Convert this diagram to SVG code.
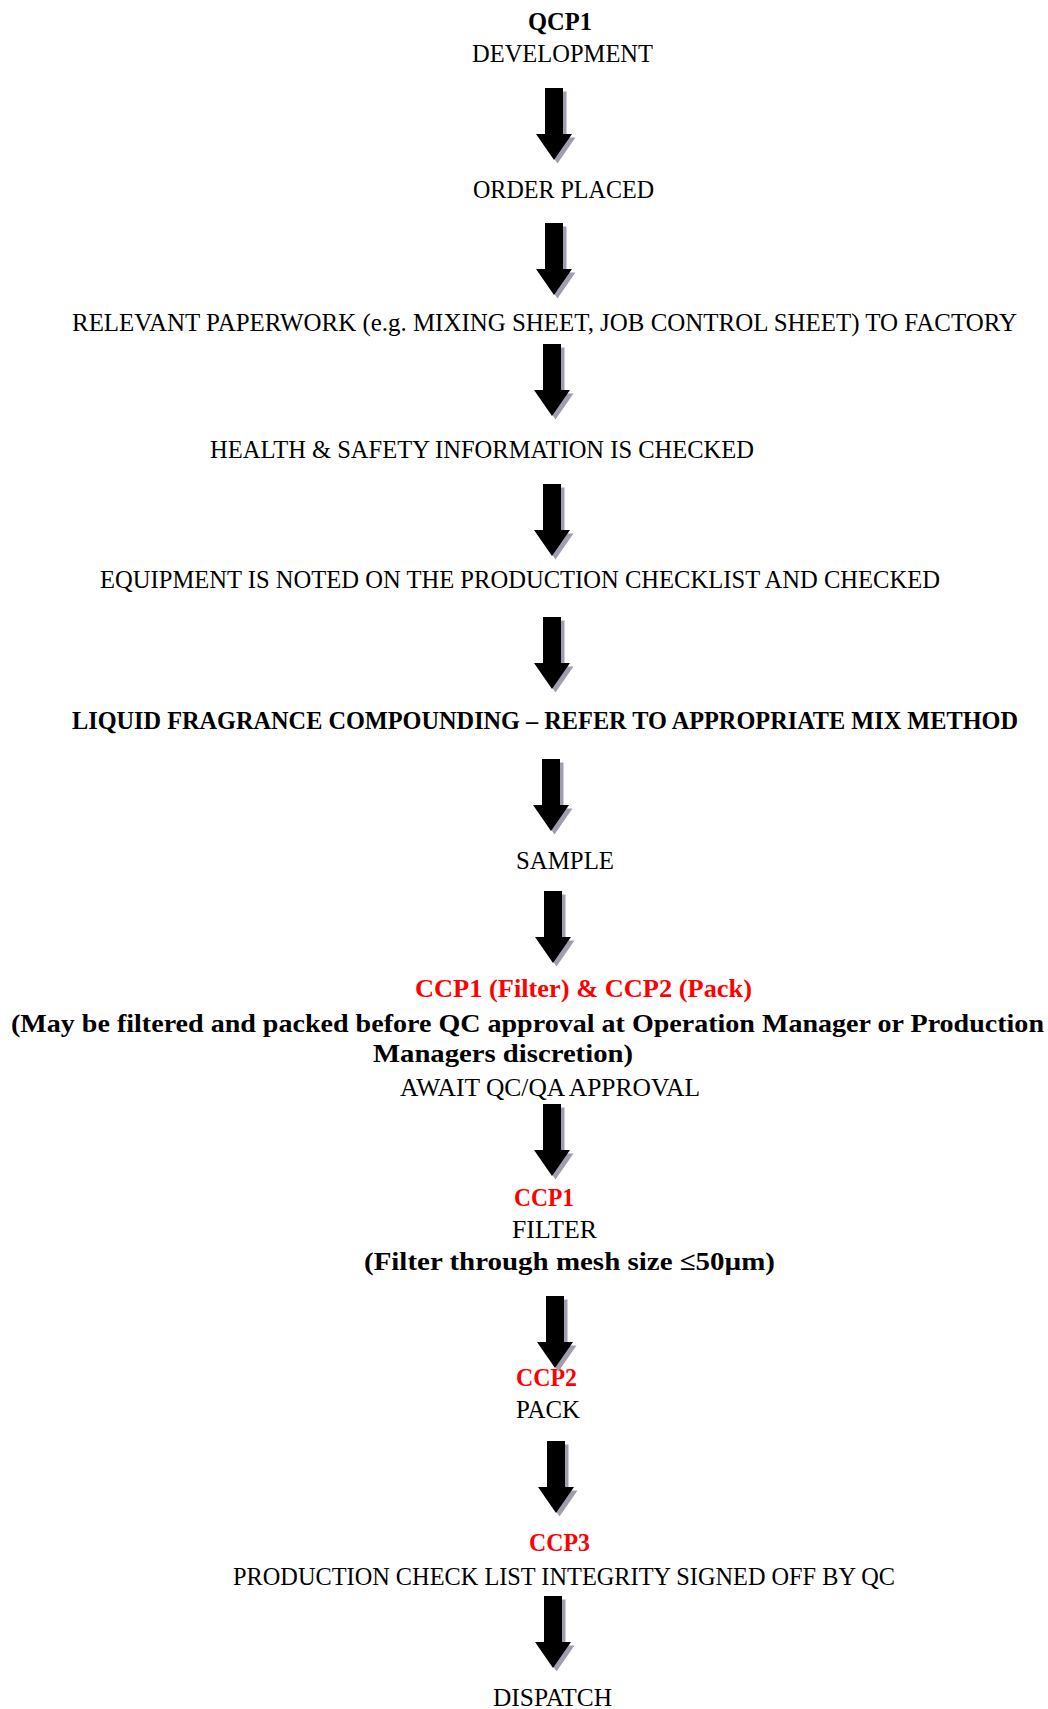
<svg xmlns="http://www.w3.org/2000/svg" width="1048" height="1709" viewBox="0 0 1048 1709">
<style>
text{font-family:"Liberation Serif","DejaVu Serif",serif;font-size:26px;fill:#000}
.b{font-weight:bold}
.r{fill:#ff0000;font-weight:bold}
.sh{fill:#a19daf}
.ar{fill:#000}
</style>
<defs>
<path id="arr" d="M-9,0 H9 V46 H18 L0,72 L-18,46 H-9 Z"/>
</defs>
<rect width="1048" height="1709" fill="#fff"/>
<g id="n1"><text class="b" x="528" y="30" textLength="64" lengthAdjust="spacingAndGlyphs">QCP1</text>
<text x="472" y="62" textLength="181" lengthAdjust="spacingAndGlyphs">DEVELOPMENT</text></g>
<g id="n2"><text x="473" y="198" textLength="181" lengthAdjust="spacingAndGlyphs">ORDER PLACED</text></g>
<g id="n3"><text x="72" y="331" textLength="945" lengthAdjust="spacingAndGlyphs">RELEVANT PAPERWORK (e.g. MIXING SHEET, JOB CONTROL SHEET) TO FACTORY</text></g>
<g id="n4"><text x="210" y="458" textLength="544" lengthAdjust="spacingAndGlyphs">HEALTH &amp; SAFETY INFORMATION IS CHECKED</text></g>
<g id="n5"><text x="100" y="588" textLength="840" lengthAdjust="spacingAndGlyphs">EQUIPMENT IS NOTED ON THE PRODUCTION CHECKLIST AND CHECKED</text></g>
<g id="n6"><text class="b" x="72" y="729" textLength="946" lengthAdjust="spacingAndGlyphs">LIQUID FRAGRANCE COMPOUNDING – REFER TO APPROPRIATE MIX METHOD</text></g>
<g id="n7"><text x="516" y="869" textLength="98" lengthAdjust="spacingAndGlyphs">SAMPLE</text></g>
<g id="n8"><text class="r" x="415" y="997" textLength="337" lengthAdjust="spacingAndGlyphs">CCP1 (Filter) &amp; CCP2 (Pack)</text>
<text class="b" x="11" y="1032" textLength="1033" lengthAdjust="spacingAndGlyphs">(May be filtered and packed before QC approval at Operation Manager or Production</text>
<text class="b" x="373" y="1062" textLength="260" lengthAdjust="spacingAndGlyphs">Managers discretion)</text>
<text x="400" y="1096" textLength="300" lengthAdjust="spacingAndGlyphs">AWAIT QC/QA APPROVAL</text></g>
<g id="n9"><text class="r" x="514" y="1206" textLength="60" lengthAdjust="spacingAndGlyphs">CCP1</text>
<text x="512" y="1238" textLength="85" lengthAdjust="spacingAndGlyphs">FILTER</text>
<text class="b" x="364" y="1270" textLength="411" lengthAdjust="spacingAndGlyphs">(Filter through mesh size ≤50µm)</text></g>
<g id="n10"><text class="r" x="516" y="1386" textLength="61" lengthAdjust="spacingAndGlyphs">CCP2</text>
<text x="516" y="1418" textLength="64" lengthAdjust="spacingAndGlyphs">PACK</text></g>
<g id="n11"><text class="r" x="529" y="1551" textLength="61" lengthAdjust="spacingAndGlyphs">CCP3</text>
<text x="233" y="1585" textLength="662" lengthAdjust="spacingAndGlyphs">PRODUCTION CHECK LIST INTEGRITY SIGNED OFF BY QC</text></g>
<g id="n12"><text x="493" y="1706" textLength="119" lengthAdjust="spacingAndGlyphs">DISPATCH</text></g>
<g id="connectors">
<g class="sh" transform="translate(3.5,3.5)">
<use href="#arr" x="554" y="88"/>
<use href="#arr" x="554" y="223"/>
<use href="#arr" x="552" y="344"/>
<use href="#arr" x="552" y="484"/>
<use href="#arr" x="552" y="617"/>
<use href="#arr" x="551" y="759"/>
<use href="#arr" x="553" y="891"/>
<use href="#arr" x="552" y="1104"/>
<use href="#arr" x="555" y="1296"/>
<use href="#arr" x="556" y="1441"/>
<use href="#arr" x="553" y="1596"/>
</g>
<g class="ar">
<use href="#arr" x="554" y="88"/>
<use href="#arr" x="554" y="223"/>
<use href="#arr" x="552" y="344"/>
<use href="#arr" x="552" y="484"/>
<use href="#arr" x="552" y="617"/>
<use href="#arr" x="551" y="759"/>
<use href="#arr" x="553" y="891"/>
<use href="#arr" x="552" y="1104"/>
<use href="#arr" x="555" y="1296"/>
<use href="#arr" x="556" y="1441"/>
<use href="#arr" x="553" y="1596"/>
</g>
</g>
</svg>
